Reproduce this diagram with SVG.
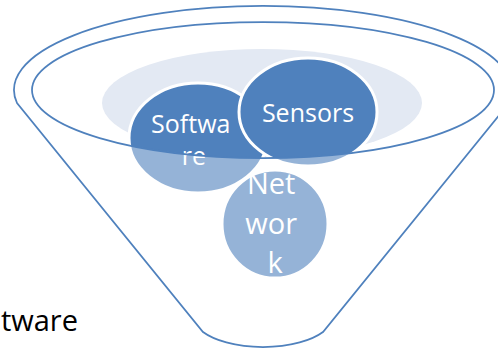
<svg xmlns="http://www.w3.org/2000/svg" width="498" height="351" viewBox="0 0 498 351">
  <style>
    .node { fill: #4F81BD; stroke: #FFFFFF; stroke-width: 3; }
    .lbl { font-family: "Open Sans", "Noto Sans", sans-serif; fill: #FFFFFF; text-anchor: middle; }
    .outline { fill: none; stroke: #4F81BD; stroke-width: 1.75; }
  </style>
  <rect width="498" height="351" fill="#FFFFFF"/>
  <g id="funnel-back">
    <ellipse cx="262" cy="103" rx="160" ry="54" fill="#E3E9F3"/>
  </g>
  <g id="connectors"/>
  <g id="node-network">
    <ellipse class="node" cx="275" cy="224" rx="53" ry="54"/>
    <text class="lbl" x="275" font-size="29">
      <tspan x="275" y="194">Net</tspan>
      <tspan x="275" y="234">wor</tspan>
      <tspan x="275" y="273">k</tspan>
    </text>
  </g>
  <g id="node-software">
    <ellipse class="node" cx="198" cy="138" rx="69" ry="55"/>
    <text class="lbl" font-size="25">
      <tspan x="194" y="133">Softwa</tspan>
      <tspan x="194" y="165">re</tspan>
    </text>
  </g>
  <g id="node-sensors">
    <ellipse class="node" cx="308" cy="112" rx="69" ry="54"/>
    <text class="lbl" x="308" y="122" font-size="25">Sensors</text>
  </g>
  <g id="funnel">
    <path d="M 32 90 A 231 68 0 0 0 494 90 L 509 103 L 323 332 A 70 31 0 0 1 203 332 L 17 103 Z" fill="#FFFFFF" fill-opacity="0.4"/>
    <path class="outline" d="M 17 103 A 249 84 0 1 1 509 103 L 323 332 A 70 31 0 0 1 203 332 Z"/>
    <ellipse class="outline" cx="263" cy="90" rx="231" ry="68"/>
  </g>
  <g id="label-software">
    <text x="78" y="331" font-family="'Open Sans', 'Noto Sans', sans-serif" font-size="29" fill="#000000" text-anchor="end">tware</text>
  </g>
</svg>
